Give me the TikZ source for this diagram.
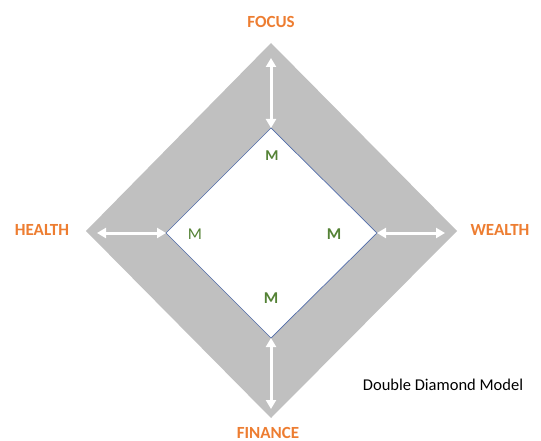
\documentclass[tikz,border=0pt]{standalone}
\usepackage{fontspec}
\setmainfont{Carlito}
\usetikzlibrary{arrows.meta}
\definecolor{dgray}{HTML}{C0C0C0}
\definecolor{lborange}{HTML}{ED7D31}
\definecolor{mgreen}{HTML}{548235}
\definecolor{edgeblue}{HTML}{4F6AA8}
\tikzset{
  lbl/.style={font=\bfseries\fontsize{17}{19}\selectfont, text=lborange, inner sep=0pt},
  mlbl/.style={font=\fontsize{16.5}{18}\selectfont, text=mgreen, inner sep=0pt},
  dblarrow/.style={draw=white, line width=3pt, {Triangle[length=9pt,width=10pt]}-{Triangle[length=9pt,width=10pt]}},
}
\begin{document}
\begin{tikzpicture}[x=1pt,y=-1pt]
\useasboundingbox (0,0) rectangle (541,441);
\clip (0,0) rectangle (541,441);
% outer diamond
\coordinate (ot) at (271,43);
\coordinate (ol) at (86,231);
\coordinate (or) at (457,231);
\coordinate (ob) at (271,418);
% inner diamond
\coordinate (it) at (271,128);
\coordinate (il) at (166,233);
\coordinate (ir) at (377,233);
\coordinate (ib) at (271,338);
\fill[dgray] (ot) -- (or) -- (ob) -- (ol) -- cycle;
\filldraw[fill=white, draw=edgeblue, line width=0.7pt] (it) -- (ir) -- (ib) -- (il) -- cycle;
% arrow ends
\coordinate (at) at (271,58);
\coordinate (al) at (97,233);
\coordinate (ar) at (445,233);
\coordinate (ab) at (271,409);
\draw[dblarrow] (at) -- (it);
\draw[dblarrow] (al) -- (il);
\draw[dblarrow] (ir) -- (ar);
\draw[dblarrow] (ib) -- (ab);
% labels
\node[lbl] (focus) at (271,22) {FOCUS};
\node[lbl] (health) at (42,230) {HEALTH};
\node[lbl] (wealth) at (500,230) {WEALTH};
\node[lbl, anchor=base] (finance) at (268,438) {FINANCE};
\node[mlbl, font=\bfseries\fontsize{15}{17}\selectfont] (mt) at (272,156) {M};
\node[mlbl] (ml) at (195,234) {M};
\node[mlbl, font=\bfseries\fontsize{16.5}{18}\selectfont] (mr) at (334,234) {M};
\node[mlbl, font=\bfseries\fontsize{16.5}{18}\selectfont] (mb) at (271,298) {M};
\node[font=\fontsize{16.5}{19}\selectfont, inner sep=0pt] (title) at (443,385) {Double Diamond Model};
\end{tikzpicture}
\end{document}
